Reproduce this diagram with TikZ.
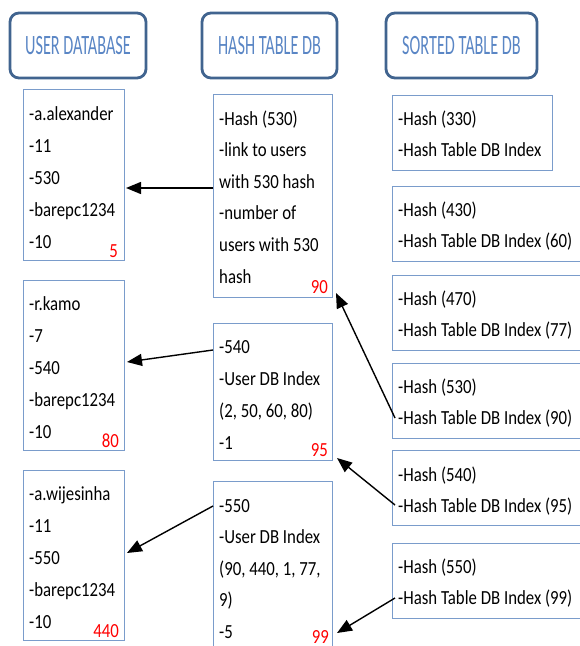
\documentclass[tikz,border=0pt]{standalone}
\usepackage{fontspec}
\setmainfont{Carlito}[FakeStretch=0.84]
\newfontfamily\hdrfont{Carlito}[FakeStretch=0.58]
\usetikzlibrary{arrows.meta}
\definecolor{hdrline}{HTML}{41648F}
\definecolor{hdrtext}{HTML}{5A86C5}
\definecolor{cellline}{HTML}{7A9CCB}
\definecolor{numred}{HTML}{FF0000}
\begin{document}
\begin{tikzpicture}[x=1pt,y=-1pt,
  hdrbox/.style={draw=hdrline, line width=2.8pt, rounded corners=9pt, fill=white,
    text=hdrtext, font=\hdrfont\fontsize{28}{30}\selectfont, inner sep=0},
  cellbox/.style={draw=cellline, line width=1.4pt, anchor=north west, inner sep=0},
  line/.style={anchor=base west, inner sep=0, font=\fontsize{20}{24}\selectfont},
  rednum/.style={anchor=base east, inner sep=0, text=numred, font=\fontsize{20}{24}\selectfont},
  link/.style={draw, line width=1.4pt, -{Triangle[length=15pt,width=12pt]}}
]
\useasboundingbox[fill=white] (0,0) rectangle (579,646);

% headers
\node[hdrbox, minimum width=136pt, minimum height=65pt] (hu) at (78,45.5) {USER DATABASE};
\node[hdrbox, minimum width=135pt, minimum height=65pt] (hh) at (269.5,45.5) {HASH TABLE DB};
\node[hdrbox, minimum width=151pt, minimum height=65pt] (hs) at (461.5,45.5) {SORTED TABLE DB};

% user database
\node[cellbox, minimum width=101pt, minimum height=171pt] (u1) at (23,89) {};
\foreach \t [count=\i] in {-a.alexander, -11, -530, -barepc1234, -10}
  \node[line] (u1l\i) at (29,{120+32*(\i-1)}) {\t};
\node[rednum] (u1n) at (118,257) {5};

\node[cellbox, minimum width=101pt, minimum height=170pt] (u2) at (23,280) {};
\foreach \t [count=\i] in {-r.kamo, -7, -540, -barepc1234, -10}
  \node[line] (u2l\i) at (29,{310+32*(\i-1)}) {\t};
\node[rednum] (u2n) at (119,447) {80};

\node[cellbox, minimum width=101pt, minimum height=170pt] (u3) at (23,470) {};
\foreach \t [count=\i] in {-a.wijesinha, -11, -550, -barepc1234, -10}
  \node[line] (u3l\i) at (29,{500+32*(\i-1)}) {\t};
\node[rednum] (u3n) at (119,637) {440};

% hash table db
\node[cellbox, minimum width=119pt, minimum height=203pt] (h1) at (213,94) {};
\foreach \t [count=\i] in {-Hash (530), -link to users, with 530 hash, -number of, users with 530, hash}
  \node[line] (h1l\i) at (219,{125+31.6*(\i-1)}) {\t};
\node[rednum] (h1n) at (328,293) {90};

\node[cellbox, minimum width=119pt, minimum height=137pt] (h2) at (213,323) {};
\foreach \t [count=\i] in {-540, -User DB Index, {(2, 50, 60, 80)}, -1}
  \node[line] (h2l\i) at (219,{353+32*(\i-1)}) {\t};
\node[rednum] (h2n) at (328,456) {95};

\node[cellbox, minimum width=119pt, minimum height=200pt] (h3) at (213,481) {};
\foreach \t [count=\i] in {-550, -User DB Index, {(90, 440, 1, 77,}, 9), -5}
  \node[line] (h3l\i) at (219,{512+31.6*(\i-1)}) {\t};
\node[rednum] (h3n) at (329,643) {99};

% sorted table db
\node[cellbox, minimum width=160pt, minimum height=75pt] (s1) at (392,95) {};
\node[line] (s1a) at (398,125) {-Hash (330)};
\node[line] (s1b) at (398,156) {-Hash Table DB Index};

\node[cellbox, minimum width=200pt, minimum height=75pt] (s2) at (392,186) {};
\node[line] (s2a) at (398,216) {-Hash (430)};
\node[line] (s2b) at (398,247) {-Hash Table DB Index (60)};

\node[cellbox, minimum width=200pt, minimum height=75pt] (s3) at (392,275) {};
\node[line] (s3a) at (398,305) {-Hash (470)};
\node[line] (s3b) at (398,336) {-Hash Table DB Index (77)};

\node[cellbox, minimum width=200pt, minimum height=75pt] (s4) at (392,363) {};
\node[line] (s4a) at (398,393) {-Hash (530)};
\node[line] (s4b) at (398,424) {-Hash Table DB Index (90)};

\node[cellbox, minimum width=200pt, minimum height=75pt] (s5) at (392,450) {};
\node[line] (s5a) at (398,481) {-Hash (540)};
\node[line] (s5b) at (398,512) {-Hash Table DB Index (95)};

\node[cellbox, minimum width=200pt, minimum height=75pt] (s6) at (392,543) {};
\node[line] (s6a) at (398,573) {-Hash (550)};
\node[line] (s6b) at (398,604) {-Hash Table DB Index (99)};

% connector end points
\coordinate (c1a) at (213,188); \coordinate (c1b) at (126,188);
\coordinate (c2a) at (213,350); \coordinate (c2b) at (127,362);
\coordinate (c3a) at (213,506); \coordinate (c3b) at (127,553);
\coordinate (c4a) at (395,418); \coordinate (c4b) at (336,293);
\coordinate (c5a) at (395,505); \coordinate (c5b) at (337,458);
\coordinate (c6a) at (395,598); \coordinate (c6b) at (337,633);

\draw[link] (c1a) -- (c1b);
\draw[link] (c2a) -- (c2b);
\draw[link] (c3a) -- (c3b);
\draw[link] (c4a) -- (c4b);
\draw[link] (c5a) -- (c5b);
\draw[link] (c6a) -- (c6b);
\end{tikzpicture}
\end{document}
